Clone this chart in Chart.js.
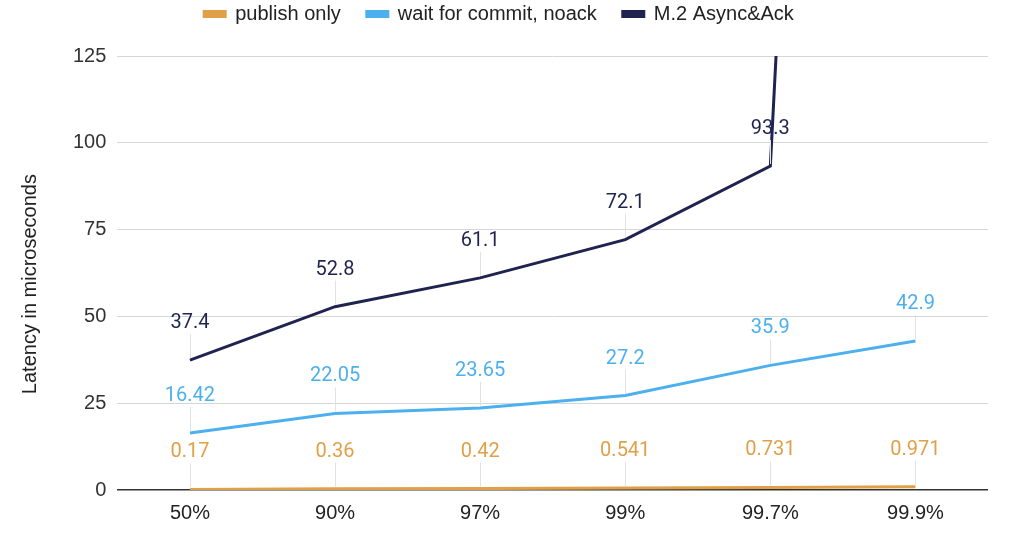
<!DOCTYPE html>
<html lang="en">
<head>
  <meta charset="UTF-8">
  <title>Latency percentiles</title>
  <script src="https://cdn.jsdelivr.net/npm/chart.js"></script>
  <style>
    html, body { margin: 0; padding: 0; background: #fff; }
    #wrap { width: 1024px; height: 558px; }
  </style>
</head>
<body>
  <div id="wrap"><canvas id="chart"></canvas></div>

  <script>
    const percentiles = ['50%', '90%', '97%', '99%', '99.7%', '99.9%'];
    const publishOnly = [0.17, 0.36, 0.42, 0.541, 0.731, 0.971];
    const waitCommit = [16.42, 22.05, 23.65, 27.2, 35.9, 42.9];
    const asyncAck = [37.4, 52.8, 61.1, 72.1, 93.3, 900];  // last one runs off the top
    const yTicks = [0, 25, 50, 75, 100, 125];

    const ORANGE = '#e0a048';
    const BLUE = '#4db0ee';
    const NAVY = '#1f2350';

    // Sheets-style value labels with a thin leader line down to the point
    const valueLabels = {
      id: 'valueLabels',
      afterDatasetsDraw(chart) {
        const ctx = chart.ctx;
        const yMax = chart.scales.y.max;
        ctx.save();
        ctx.font = '20px Roboto';
        ctx.textAlign = 'center';
        ctx.textBaseline = 'middle';
        chart.data.datasets.forEach((ds, di) => {
          const meta = chart.getDatasetMeta(di);
          meta.data.forEach((pt, i) => {
            if (ds.data[i] > yMax) return;
            ctx.strokeStyle = '#e2e2e2';
            ctx.lineWidth = 1;
            ctx.beginPath();
            ctx.moveTo(Math.round(pt.x) + 0.5, pt.y - 2);
            ctx.lineTo(Math.round(pt.x) + 0.5, pt.y - 26);
            ctx.stroke();
            ctx.fillStyle = ds.borderColor;
            ctx.fillText(String(ds.data[i]), pt.x, pt.y - 37);
          });
        });
        ctx.restore();
      }
    };

    // legend sits high; give it a fixed height so the plot starts where it should
    const legendSpace = {
      id: 'legendSpace',
      beforeInit(chart) {
        const fit = chart.legend.fit;
        chart.legend.fit = function () {
          fit.call(this);
          this.height = 78;
        };
      }
    };

    function line(label, data, color) {
      return {
        label,
        data,
        borderColor: color,
        backgroundColor: color,
        borderWidth: 3,
        pointRadius: 0,
        pointHoverRadius: 0,
        tension: 0,
        fill: false
      };
    }

    new Chart(document.getElementById('chart'), {
      type: 'line',
      data: {
        labels: percentiles,
        datasets: [
          line('publish only', publishOnly, ORANGE),
          line('wait for commit, noack', waitCommit, BLUE),
          line('M.2 Async&Ack', asyncAck, NAVY)
        ]
      },
      options: {
        responsive: true,
        maintainAspectRatio: false,
        animation: false,
        layout: { padding: { left: 10, right: 36, top: -22, bottom: 22 } },
        plugins: {
          legend: {
            position: 'top',
            labels: {
              boxWidth: 21,
              boxHeight: 5,
              padding: 26,
              color: '#222',
              font: { family: 'Liberation Sans', size: 20 }
            }
          },
          tooltip: { enabled: false }
        },
        scales: {
          y: {
            min: 0,
            max: 125,
            afterBuildTicks(axis) {
              axis.ticks = yTicks.map(v => ({ value: v }));
            },
            title: {
              display: true,
              // trailing spaces nudge the rotated title a little lower, like the original
              text: 'Latency in microseconds    ',
              color: '#222',
              font: { family: 'Liberation Sans', size: 20 },
              padding: { top: 8, bottom: 20 }
            },
            ticks: {
              color: '#333',
              padding: 11,
              font: { family: 'Liberation Sans', size: 20 }
            },
            grid: {
              color: c => c.tick.value === 0 ? '#333' : '#d6d6d6',
              lineWidth: c => c.tick.value === 0 ? 1.5 : 1,
              drawTicks: false
            },
            border: { display: false }
          },
          x: {
            offset: true,
            ticks: {
              color: '#222',
              padding: 11,
              font: { family: 'Liberation Sans', size: 20 }
            },
            grid: { display: false, drawTicks: false },
            border: { display: false }
          }
        }
      },
      plugins: [valueLabels, legendSpace]
    });
  </script>
</body>
</html>
